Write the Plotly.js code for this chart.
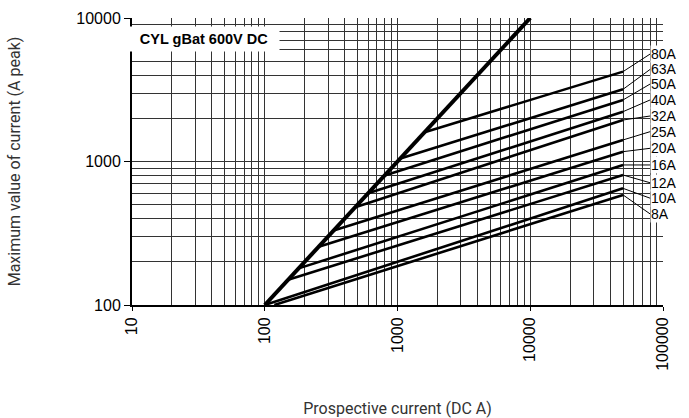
<!DOCTYPE html>
<html>
<head>
<meta charset="utf-8">
<script src="https://cdn.plot.ly/plotly-3.0.1.min.js"></script>
<style>
html,body{margin:0;padding:0;background:#fff;}
#chart{width:689px;height:418px;}
</style>
</head>
<body>
<div id="chart"></div>
<script>
// Data
const ratings = ['80A','63A','50A','40A','32A','25A','20A','16A','12A','10A','8A'];
const startX = [1600, 1050, 800, 600, 480, 330, 255, 180, 150, 100, 118];
const startY = [1600, 1050, 800, 600, 480, 330, 255, 180, 150, 100, 100];
const endX   = [50000,50000,50000,50000,50000,50000,50000,50000,50000,50000,50000];
const endY   = [4230, 3185, 2685, 2225, 1946, 1413, 1171, 946, 805, 650, 585];
const diagX = [100, 10000];
const diagY = [100, 10000];
// label positions (value units)
const labelX = 80000;
const labelY = [5610, 4385, 3467, 2685, 2075, 1614, 1236, 946, 711, 555, 431];
const xTicks = [10, 100, 1000, 10000, 100000];
const xTickText = ['10','100','1000','10000','100000'];
const yTicks = [100, 1000, 10000];
const yTickText = ['100','1000','10000'];

const traces = [];
ratings.forEach((r, i) => {
  traces.push({
    type: 'scatter', mode: 'lines', name: r,
    x: [startX[i], endX[i]], y: [startY[i], endY[i]],
    line: {color: '#000', width: 2.6},
    hoverinfo: 'skip', showlegend: false
  });
});
traces.push({
  type: 'scatter', mode: 'lines', name: 'limit',
  x: diagX, y: diagY,
  line: {color: '#000', width: 4},
  hoverinfo: 'skip', showlegend: false
});

const annotations = ratings.map((r, i) => ({
  x: Math.log10(endX[i]), y: Math.log10(endY[i]), xref: 'x', yref: 'y',
  ax: Math.log10(labelX), ay: Math.log10(labelY[i]), axref: 'x', ayref: 'y',
  text: r, showarrow: true, arrowhead: 0, arrowwidth: 1, arrowcolor: '#000',
  xanchor: 'left', yanchor: 'middle', bgcolor: '#fff', borderpad: 0,
  font: {family: 'Arial, Liberation Sans, sans-serif', size: 14, color: '#000'}
}));
annotations.push({
  xref: 'paper', yref: 'paper', x: -0.008, y: 0.972, xanchor: 'left', yanchor: 'top',
  width: 148, height: 22, showarrow: false, bgcolor: '#fff', align: 'center', valign: 'middle',
  text: '<b>CYL gBat 600V DC</b>',
  font: {family: 'Arial, Liberation Sans, sans-serif', size: 14.5, color: '#000'}
});

const gridColor = '#333';
const layout = {
  width: 689, height: 418,
  margin: {l: 132, r: 26, t: 18, b: 113},
  paper_bgcolor: '#fff', plot_bgcolor: '#fff',
  showlegend: false,
  xaxis: {
    type: 'log', range: [1, 5],
    tickvals: xTicks, ticktext: xTickText, tickangle: -90,
    ticks: 'outside', ticklen: 4, tickcolor: '#000', tickwidth: 1,
    showgrid: true, gridcolor: gridColor, gridwidth: 1,
    minor: {dtick: 'D1', showgrid: true, gridcolor: gridColor, gridwidth: 1, ticks: ''},
    showline: true, linecolor: '#000', linewidth: 2,
    tickfont: {family: 'Arial, Liberation Sans, sans-serif', size: 16, color: '#000'},
    title: {text: 'Prospective current (DC A)', standoff: 36,
            font: {family: 'Roboto, sans-serif', size: 16, color: '#333'}},
    zeroline: false, fixedrange: true
  },
  yaxis: {
    type: 'log', range: [2, 4],
    tickvals: yTicks, ticktext: yTickText,
    ticks: 'outside', ticklen: 6, tickcolor: '#000', tickwidth: 1,
    showgrid: true, gridcolor: gridColor, gridwidth: 1,
    minor: {dtick: 'D1', showgrid: true, gridcolor: gridColor, gridwidth: 1, ticks: ''},
    showline: true, linecolor: '#000', linewidth: 2,
    tickfont: {family: 'Arial, Liberation Sans, sans-serif', size: 16, color: '#000'},
    title: {text: 'Maximum value of current (A peak)', standoff: 52,
            font: {family: 'Roboto, sans-serif', size: 16, color: '#333'}},
    zeroline: false, fixedrange: true
  },
  annotations: annotations
};

Plotly.newPlot('chart', traces, layout, {displayModeBar: false, staticPlot: true});
</script>
</body>
</html>
